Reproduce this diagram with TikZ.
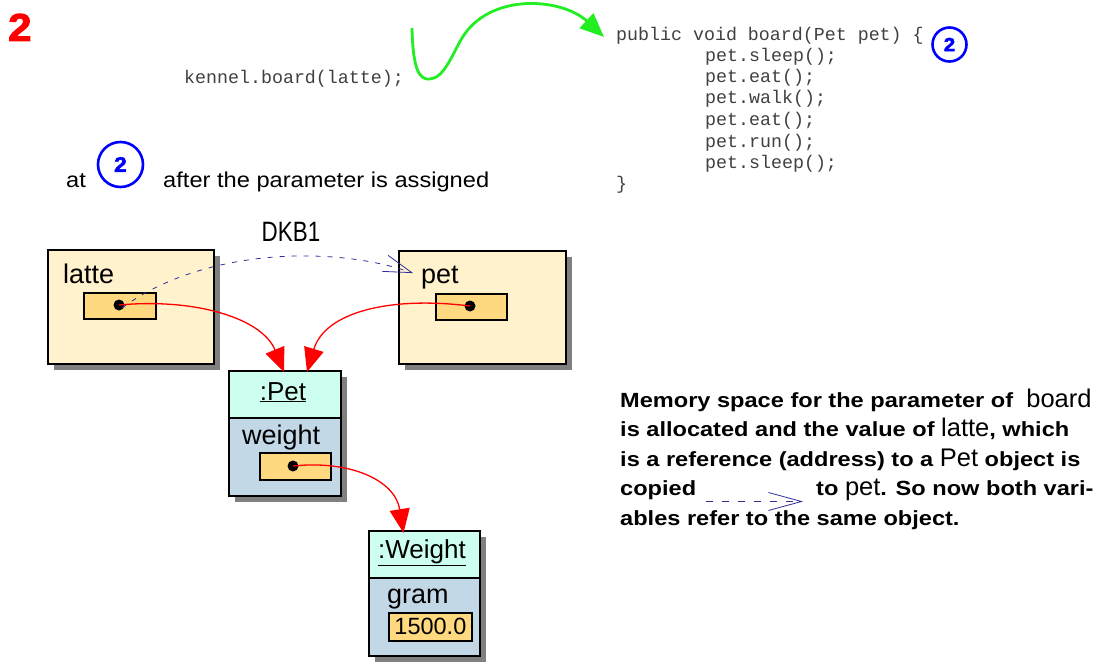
\documentclass[tikz,border=0pt]{standalone}
\usepackage{fontspec}
\setmainfont{Liberation Sans}
\newfontfamily\codefont{Liberation Mono}
\newfontfamily\parafont[FakeStretch=1.15]{Liberation Sans}
\newfontfamily\capfont[FakeStretch=1.1]{Liberation Sans}
\newfontfamily\narrowfont[FakeStretch=0.8]{Liberation Sans}
\newfontfamily\heavyfont[BoldFeatures={FakeBold=2.5}, FakeStretch=1.08]{Liberation Sans}
\usetikzlibrary{arrows.meta}

\definecolor{cream}{HTML}{FFF2CC}
\definecolor{slotc}{HTML}{FFD97F}
\definecolor{headc}{HTML}{CCFFF0}
\definecolor{bodyc}{HTML}{C2D8E6}
\definecolor{shadowc}{HTML}{808080}
\definecolor{copyc}{HTML}{2E2E99}
\definecolor{callc}{HTML}{22EE22}

\tikzset{
  x=1pt, y=-1pt,
  varbox/.style={draw, line width=2pt, fill=cream, anchor=north west, inner sep=0pt},
  slot/.style={draw, line width=1.8pt, fill=slotc, anchor=north west, inner sep=0pt},
  objhead/.style={draw, line width=2pt, fill=headc, anchor=north west, inner sep=0pt},
  objbody/.style={draw, line width=2pt, fill=bodyc, anchor=north west, inner sep=0pt},
  lbl/.style={font=\fontsize{27}{30}\selectfont, anchor=base west, inner sep=0pt},
  code/.style={font=\codefont\fontsize{18.3}{21}\selectfont, anchor=base west, inner sep=0pt, text=black!75},
  para/.style={font=\parafont\fontsize{20.5}{30}\selectfont\bfseries, anchor=base west, inner sep=0pt},
  dotc/.style={circle, fill=black, inner sep=0pt, minimum size=11pt},
  refarrow/.style={red, line width=1.3pt, -{Triangle[length=24pt, width=20pt]}},
  copyarrow/.style={copyc, line width=0.8pt, dash pattern=on 5pt off 7pt, -{Straight Barb[length=28pt, width=17pt, line width=0.8pt]}},
  stepmark/.style={circle, draw=blue, line width=2.6pt, text=blue, inner sep=0pt},
}
\newcommand{\plain}[1]{{\mdseries\fontspec{Liberation Sans}\fontsize{25.5}{30}\selectfont #1}}

\begin{document}
\begin{tikzpicture}
\useasboundingbox (0,0) rectangle (1102,666);

% step number
\node[anchor=base west, inner sep=0pt, text=red, font=\heavyfont\fontsize{39}{39}\selectfont\bfseries] (stepno) at (8,41) {2};

% calling statement and method body
\node[code] (call) at (184,84) {kennel.board(latte);};
\node[code] (sig) at (616,41) {public void board(Pet pet) \{};
\node[code] (c1) at (705,62) {pet.sleep();};
\node[code] (c2) at (705,83) {pet.eat();};
\node[code] (c3) at (705,104) {pet.walk();};
\node[code] (c4) at (705,125) {pet.eat();};
\node[code] (c5) at (705,147) {pet.run();};
\node[code] (c6) at (705,168) {pet.sleep();};
\node[code] (c7) at (616,189) {\}};
\node[stepmark, minimum size=34pt, font=\heavyfont\fontsize{19}{19}\selectfont\bfseries] (markA) at (949.5,44.5) {2};

% the call jumps into the method
\coordinate (callStart) at (412,28);
\draw[callc, line width=2.8pt, -{Triangle[length=24pt, width=20pt]}]
  (callStart) .. controls (413,72) and (420,80) .. (430,79)
  .. controls (444,78) and (452,55) .. (462,38)
  .. controls (490,-8) and (562,-2) .. ([shift={(-12,-4)}]sig.base west);

% caption
\node[lbl, font=\capfont\fontsize{21.5}{26}\selectfont] (at) at (66,187) {at};
\node[stepmark, minimum size=45pt, font=\heavyfont\fontsize{21}{21}\selectfont\bfseries] (markB) at (120.5,164.5) {2};
\node[lbl, font=\capfont\fontsize{21.5}{26}\selectfont] (after) at (163,187) {after the parameter is assigned};

% local variables
\fill[shadowc] (54,256) rectangle (220,370);
\node[varbox, minimum width=166pt, minimum height=114pt] (latteBox) at (47,249) {};
\node[lbl] (latteName) at (63,283) {latte};
\node[slot, minimum width=72pt, minimum height=26pt] (latteSlot) at (83,292) {};
\node[dotc] (latteDot) at (119,305) {};

\fill[shadowc] (405,257) rectangle (572,370);
\node[varbox, minimum width=167pt, minimum height=113pt] (petBox) at (398,250) {};
\node[lbl] (petName) at (421,283) {pet};
\node[slot, minimum width=71pt, minimum height=26pt] (petSlot) at (435,293) {};
\node[dotc] (petDot) at (470,306) {};

% Pet object
\fill[shadowc] (235,377) rectangle (347,502);
\node[objhead, minimum width=112pt, minimum height=47pt] (petHead) at (228,370) {};
\node[objbody, minimum width=112pt, minimum height=78pt] (petBody) at (228,417) {};
\node[lbl, anchor=base, font=\fontsize{26}{30}\selectfont] (petTitle) at (283,400) {\underline{:Pet}};
\node[lbl] (weightName) at (242,444) {weight};
\node[slot, minimum width=71pt, minimum height=27pt] (weightSlot) at (259,452) {};
\node[dotc] (weightDot) at (293,466) {};

% Weight object
\fill[shadowc] (375,537) rectangle (486,662);
\node[objhead, minimum width=111pt, minimum height=47pt] (wHead) at (368,530) {};
\node[objbody, minimum width=111pt, minimum height=78pt] (wBody) at (368,577) {};
\node[lbl, anchor=base, font=\fontsize{26}{30}\selectfont] (wTitle) at (422,558) {\underline{:Weight}};
\node[lbl] (gramName) at (387,603) {gram};
\node[slot, minimum width=83pt, minimum height=28pt, font=\fontsize{23.5}{26}\selectfont] (gramSlot) at (388,612) {1500.0};

% references
\draw[refarrow] (latteDot.center) .. controls (195,298) and (262,318) .. ([xshift=-1pt, yshift=-2pt]petHead.north);
\draw[refarrow] (petDot.center) .. controls (390,296) and (325,312) .. ([xshift=22pt, yshift=-2pt]petHead.north);
\draw[refarrow] (weightDot.center) .. controls (350,460) and (395,480) .. ([xshift=-21pt, yshift=-3pt]wHead.north);

% copy of the reference value
\draw[copyarrow] ([xshift=3pt, yshift=-3pt]latteDot.center) .. controls (200,250) and (330,244) .. ([xshift=-8pt, yshift=4pt]petName.west);
\node[lbl, anchor=base, font=\narrowfont\fontsize{28}{30}\selectfont] (dkb) at (291,241) {DKB1};

% explanation
\node[para] (p1) at (620,407) {Memory space for the parameter of \ \plain{board}};
\node[para] (p2) at (620,436.5) {is allocated and the value of \plain{latte}, which};
\node[para] (p3) at (620,466) {is a reference (address) to a \plain{Pet} object is};
\node[para] (p4a) at (620,495.5) {copied};
\node[para] (p4b) at (816,495.5) {to \plain{pet}. So now both vari-};
\node[para] (p5) at (620,525) {ables refer to the same object.};
\draw[copyarrow, dash pattern=on 7pt off 9pt, -{Straight Barb[length=33pt, width=18pt, line width=0.8pt]}] ([xshift=10pt, yshift=-6pt]p4a.base east) -- ([xshift=-13pt, yshift=-6pt]p4b.base west);

\end{tikzpicture}
\end{document}
